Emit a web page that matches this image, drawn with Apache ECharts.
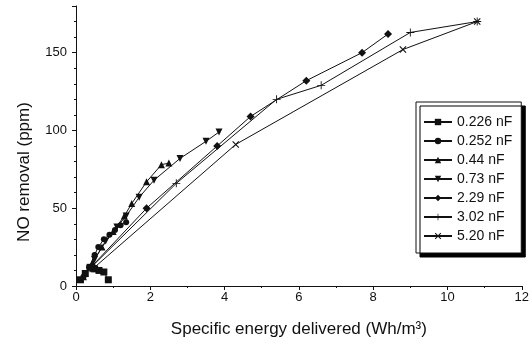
<!DOCTYPE html>
<html>
<head>
<meta charset="utf-8">
<script src="https://cdn.jsdelivr.net/npm/echarts@6/dist/echarts.min.js"></script>
<style>
  html, body { margin: 0; padding: 0; background: #fff; }
  #main { width: 532px; height: 346px; }
</style>
</head>
<body>
<div id="main"></div>
<script>
// capacitance labels, one per series
const capLabels = ['0.226 nF', '0.252 nF', '0.44 nF', '0.73 nF', '2.29 nF', '3.02 nF', '5.20 nF']

// specific energy (Wh/m3) and NO removal (ppm) per series
const energy0226 = [0.12, 0.25, 0.38, 0.5, 0.62, 0.75, 0.87]
const removal0226 = [4, 8, 12, 11, 10, 9, 4]

const energy0252 = [0.2, 0.35, 0.5, 0.6, 0.75, 0.9, 1.05, 1.2, 1.35]
const removal0252 = [6, 12, 20, 25, 30, 33, 36, 39, 41]

const energy044 = [0.2, 0.45, 0.7, 1.0, 1.3, 1.5, 1.9, 2.3, 2.5]
const removal044 = [6, 15, 25, 35, 45, 53, 67, 78, 79]

const energy073 = [0.25, 0.5, 0.8, 1.1, 1.35, 1.7, 2.1, 2.8, 3.5, 3.85]
const removal073 = [8, 17, 29, 38, 45, 57, 68, 82, 93, 99]

const energy229 = [0.4, 1.9, 3.8, 4.7, 6.2, 7.7, 8.4]
const removal229 = [12, 50, 90, 109, 132, 150, 162]

const energy302 = [0.45, 2.7, 5.4, 6.6, 9.0, 10.8]
const removal302 = [13, 66, 120, 129, 163, 170]

const energy520 = [0.45, 4.3, 8.8, 10.8]
const removal520 = [11, 91, 152, 170]

const xTicks = [0, 2, 4, 6, 8, 10, 12]
const yTicks = [0, 50, 100, 150]

const ink = '#111'
const font = "'Liberation Sans', Arial, sans-serif"

const plusPath = 'path://M4,0H5V4H9V5H5V9H4V5H0V4H4Z'
const crossPath = 'path://M0,1L1,0L4.5,3.5L8,0L9,1L5.5,4.5L9,8L8,9L4.5,5.5L1,9L0,8L3.5,4.5Z'

const pairs = (xs, ys) => xs.map((v, i) => [v, ys[i]])

const seriesDefs = [
  { x: energy0226, y: removal0226, symbol: 'rect', size: 7 },
  { x: energy0252, y: removal0252, symbol: 'circle', size: 6 },
  { x: energy044, y: removal044, symbol: 'triangle', size: 7 },
  { x: energy073, y: removal073, symbol: 'triangle', size: 7, rotate: 180 },
  { x: energy229, y: removal229, symbol: 'diamond', size: 8 },
  { x: energy302, y: removal302, symbol: plusPath, size: 8 },
  { x: energy520, y: removal520, symbol: crossPath, size: 7 },
]

const chart = echarts.init(document.getElementById('main'), null, { renderer: 'canvas' })

chart.setOption({
  animation: false,
  backgroundColor: '#fff',
  textStyle: { fontFamily: font, color: ink },
  grid: { left: 76, right: 4, top: 6, bottom: 60 },
  legend: {
    orient: 'vertical',
    left: 416,
    top: 102,
    padding: [13, 9, 10, 7],
    itemGap: 5,
    itemWidth: 28,
    itemHeight: 8,
    backgroundColor: '#fff',
    borderColor: ink,
    borderWidth: 1,
    borderRadius: 0,
    shadowColor: '#000',
    shadowBlur: 0,
    shadowOffsetX: 4,
    shadowOffsetY: 4,
    textStyle: { fontFamily: font, fontSize: 14, color: ink },
    data: capLabels,
  },
  xAxis: {
    type: 'value',
    min: xTicks[0],
    max: xTicks[xTicks.length - 1],
    interval: 2,
    name: 'Specific energy delivered (Wh/m³)',
    nameLocation: 'middle',
    nameGap: 35,
    nameTextStyle: { fontFamily: font, fontSize: 17, color: ink },
    axisLine: { lineStyle: { color: ink, width: 1 } },
    axisTick: { length: 4, lineStyle: { color: ink } },
    minorTick: { show: true, splitNumber: 2, length: 2, lineStyle: { color: ink } },
    axisLabel: { fontFamily: font, fontSize: 13, color: ink, margin: 5 },
    splitLine: { show: false },
  },
  yAxis: {
    type: 'value',
    min: yTicks[0],
    max: 180,
    interval: 50,
    name: 'NO removal (ppm)',
    nameLocation: 'middle',
    nameGap: 43,
    nameTextStyle: { fontFamily: font, fontSize: 17, color: ink, padding: [0, 52, 0, 0] },
    axisLine: { show: true, lineStyle: { color: ink, width: 1 } },
    axisTick: { show: true, length: 4, lineStyle: { color: ink } },
    minorTick: { show: true, splitNumber: 5, length: 2, lineStyle: { color: ink } },
    axisLabel: {
      fontFamily: font, fontSize: 13, color: ink, margin: 9,
      formatter: (v) => (yTicks.includes(v) ? String(v) : ''),
    },
    splitLine: { show: false },
  },
  series: seriesDefs.map((d, i) => ({
    name: capLabels[i],
    type: 'line',
    data: pairs(d.x, d.y),
    symbol: d.symbol,
    symbolSize: d.size,
    symbolRotate: d.rotate || 0,
    showAllSymbol: true,
    lineStyle: { color: ink, width: 1 },
    itemStyle: { color: ink, borderColor: ink, borderWidth: 0 },
    z: 2 + i,
  })),
})
</script>
</body>
</html>
